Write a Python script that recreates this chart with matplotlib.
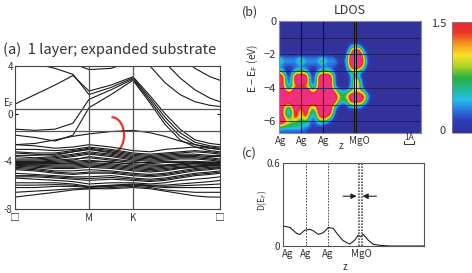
import numpy as np
import matplotlib
matplotlib.use('Agg')
import matplotlib.pyplot as plt
from matplotlib.colors import LinearSegmentedColormap
from matplotlib.patches import Arc

plt.rcParams['font.family'] = ['Noto Sans CJK JP', 'DejaVu Sans']
plt.rcParams['mathtext.fontset'] = 'dejavusans'

# ---- (a) band structure ----
k_path = [0, 20, 40, 58, 74, 96, 118, 135, 150, 165, 180, 195, 205]
k_ticks = [0, 74, 118, 205]
k_labels = ['□', 'M', 'K', '□']

upper_bands = [
    [6.0, 5.5, 4.8, 4.2, 3.7, 3.8, 4.4, 5.0, 6.0, 6.0, 6.0, 6.0, 6.0],
    [0.8, 1.6, 2.4, 3.2, 1.9, 2.4, 3.1, 1.5, 0.0, -1.3, -2.2, -2.5, -2.6],
    [4.6, 4.2, 3.8, 3.3, 1.6, 2.2, 3.0, 1.3, -0.3, -1.6, -2.4, -2.7, -2.8],
    [-1.3, -1.4, -1.3, -0.8, 1.2, 2.0, 2.9, 1.1, -0.6, -1.9, -2.6, -2.9, -3.0],
    [-1.8, -2.0, -2.3, -1.8, 0.5, 1.6, 2.8, 0.9, -0.9, -2.2, -2.8, -3.1, -3.2],
    [6.0, 6.0, 6.0, 6.0, 6.0, 6.0, 6.0, 4.0, 2.6, 1.6, 1.0, 0.7, 0.6],
    [6.0, 6.0, 6.0, 6.0, 6.0, 6.0, 6.0, 6.0, 4.3, 3.0, 2.0, 1.3, 1.0],
    [6.0, 6.0, 6.0, 6.0, 6.0, 6.0, 6.0, 6.0, 6.0, 4.8, 3.8, 3.1, 2.8],
    [-2.6, -2.5, -2.2, -1.9, -1.7, -1.5, -1.4, -1.6, -1.9, -2.3, -2.6, -2.8, -2.9],
]

lower_bands = [
    [-2.6, -2.7, -2.9, -2.8, -2.6, -2.8, -3.1, -3.2, -3.0, -2.9, -2.8, -2.9, -3.0],
    [-3.0, -3.0, -3.1, -3.0, -2.8, -3.0, -3.3, -3.4, -3.3, -3.2, -3.1, -3.2, -3.3],
    [-3.2, -3.3, -3.3, -3.1, -2.9, -3.1, -3.4, -3.5, -3.4, -3.3, -3.2, -3.3, -3.4],
    [-3.3, -3.4, -3.5, -3.2, -3.0, -3.2, -3.5, -3.6, -3.5, -3.4, -3.4, -3.5, -3.5],
    [-3.5, -3.5, -3.4, -3.2, -3.0, -3.3, -3.6, -3.7, -3.6, -3.5, -3.5, -3.6, -3.6],
    [-3.6, -3.7, -3.6, -3.4, -3.2, -3.4, -3.7, -3.8, -3.7, -3.6, -3.6, -3.7, -3.8],
    [-3.8, -3.8, -3.7, -3.5, -3.3, -3.5, -3.8, -3.9, -3.8, -3.7, -3.7, -3.8, -3.9],
    [-3.9, -3.9, -3.8, -3.6, -3.4, -3.6, -3.9, -4.0, -3.9, -3.8, -3.8, -3.9, -4.0],
    [-4.0, -4.0, -3.9, -3.8, -3.7, -3.9, -4.1, -4.1, -4.0, -4.0, -4.0, -4.1, -4.1],
    [-4.05, -4.05, -4.0, -3.9, -3.6, -3.8, -4.0, -4.2, -4.1, -4.1, -4.05, -4.05, -4.05],
    [-4.1, -4.1, -4.1, -4.0, -3.9, -4.1, -4.2, -4.3, -4.3, -4.2, -4.1, -4.1, -4.1],
    [-4.15, -4.15, -4.2, -4.1, -4.0, -4.0, -4.3, -4.4, -4.35, -4.25, -4.15, -4.15, -4.15],
    [-4.2, -4.2, -4.2, -4.2, -4.1, -4.2, -4.4, -4.5, -4.4, -4.3, -4.2, -4.2, -4.2],
    [-4.25, -4.3, -4.3, -4.3, -4.2, -4.3, -4.5, -4.6, -4.5, -4.4, -4.3, -4.25, -4.25],
    [-4.3, -4.3, -4.4, -4.4, -4.3, -4.4, -4.6, -4.7, -4.6, -4.5, -4.4, -4.3, -4.3],
    [-4.35, -4.4, -4.5, -4.5, -4.4, -4.5, -4.7, -4.8, -4.7, -4.55, -4.45, -4.35, -4.35],
    [-4.4, -4.5, -4.6, -4.6, -4.5, -4.6, -4.8, -4.9, -4.8, -4.6, -4.5, -4.4, -4.4],
    [-4.5, -4.6, -4.8, -4.8, -4.7, -4.8, -5.0, -5.1, -5.0, -4.8, -4.6, -4.5, -4.5],
    [-4.6, -4.7, -4.9, -5.0, -4.9, -4.9, -5.1, -5.2, -5.1, -4.9, -4.7, -4.6, -4.55],
    [-4.7, -4.8, -5.0, -5.1, -5.0, -5.0, -5.2, -5.3, -5.2, -5.0, -4.8, -4.7, -4.6],
    [-5.0, -5.1, -5.2, -5.3, -5.3, -5.2, -5.4, -5.5, -5.4, -5.2, -5.0, -4.9, -4.8],
    [-5.2, -5.2, -5.3, -5.4, -5.45, -5.35, -5.5, -5.6, -5.5, -5.3, -5.1, -5.0, -4.9],
    [-5.3, -5.3, -5.4, -5.5, -5.6, -5.5, -5.6, -5.7, -5.6, -5.4, -5.2, -5.1, -5.0],
    [-5.4, -5.5, -5.6, -5.7, -5.9, -5.8, -5.8, -5.9, -5.8, -5.6, -5.5, -5.4, -5.3],
    [-5.8, -5.8, -5.8, -5.9, -6.1, -6.0, -5.9, -6.0, -6.0, -5.9, -5.8, -5.7, -5.6],
    [-6.0, -6.0, -5.95, -6.0, -6.15, -6.05, -5.95, -6.05, -6.1, -6.05, -6.0, -5.95, -5.9],
    [-6.2, -6.2, -6.1, -6.1, -6.2, -6.1, -6.0, -6.1, -6.2, -6.2, -6.2, -6.2, -6.2],
    [-6.6, -6.5, -6.4, -6.3, -6.3, -6.2, -6.1, -6.2, -6.4, -6.5, -6.6, -6.6, -6.6],
    [-7.0, -6.8, -6.6, -6.4, -6.3, -6.3, -6.2, -6.3, -6.5, -6.7, -6.9, -7.0, -7.0],
]
ef_level = 0.4
flat_level = -1.45

# ---- (b) LDOS map: rows E = 0 .. -6.6 (step 0.3 eV), columns z = 0 .. 10.8 A (step 0.3 A) ----
ldos_rows = [
    "0000000000000000000000000000000000000",
    "0000000000000000000000000000000000000",
    "0000000000000000000000000000000000000",
    "0000000000000000000000000000000000000",
    "0000000000000000000000000000000000000",
    "0000000000000000000000000012221000000",
    "0000000000000000000000000137997310000",
    "1111111111111111111110000269999620000",
    "4322222343222223432222111379999731000",
    "1111111111111111111111000268998620000",
    "3310012333210012333210000124542100000",
    "9851148999841148999841000012321000000",
    "9852148999841148999841000013663100000",
    "9852245666542248999841000013553100000",
    "9986579999985579999975322234554310000",
    "9999999999999999999998544589999852100",
    "9999999999999999999997433368888631000",
    "9964479878975579999852100122322100000",
    "9842148656853359999841000000000000000",
    "9853358656742247887520000000000000000",
    "9986544333321123332100000000000000000",
    "4433333332221111100000000000000000000",
    "1111111111100000000000000000000000000",
]
ldos_z_step = 0.3
ldos_e_step = 0.3
ldos_level = 0.21
ag_z = [2.5, 4.95]
mgo_z = [8.4, 8.62]
z_label_pos = [0.15, 2.5, 4.95, 8.9]
z_labels = ['Ag', 'Ag', 'Ag', 'MgO']
scalebar_z = [13.9, 15.0]

# ---- (c) D(E_F) along z ----
dos_z = [0.04, 0.78, 1.52, 1.89, 2.44, 3.0, 3.37, 3.93, 4.48, 5.04, 5.59, 6.15,
         6.7, 7.44, 8.0, 8.37, 8.63, 8.93, 9.48, 10.04, 10.78, 11.89, 15.7]
dos_val = [0.144, 0.134, 0.091, 0.084, 0.115, 0.12, 0.11, 0.084, 0.096, 0.134, 0.127, 0.079,
           0.038, 0.014, 0.043, 0.079, 0.067, 0.084, 0.043, 0.012, 0.005, 0.0, 0.0]
c_ag_z = [2.55, 5.0]
c_mgo_z = [8.45, 8.75]
c_label_pos = [0.55, 2.55, 5.0, 8.7]

txt = '#333333'
fig = plt.figure(figsize=(4.72, 2.73), dpi=100)

# (a)
ax = fig.add_axes([15/472, 1 - 209/273, 205/472, 143/273])
for b in upper_bands + lower_bands:
    ax.plot(k_path, b, color='#1a1a1a', lw=0.8)
for k in k_ticks[1:3]:
    ax.axvline(k, color='#555555', lw=0.9)
ax.axhline(ef_level, color='#555555', lw=0.9)
ax.axhline(flat_level, color='#555555', lw=0.9)
ax.add_patch(Arc((97, -1.8), 24, 3.0, theta1=-105, theta2=110, color='#ee3322', lw=1.6))
ax.set_xlim(0, 205)
ax.set_ylim(-8, 4)
ax.set_xticks(k_ticks)
ax.set_xticklabels(k_labels, fontsize=7, color=txt)
ax.set_yticks([4, 0, -4, -8])
ax.set_yticklabels(['4', '0', '-4', '-8'], fontsize=7, color=txt)
ax.tick_params(axis='x', length=0, pad=3)
ax.tick_params(axis='y', direction='in', length=2.5, pad=1.5, right=True)
ax.text(-0.005, 0.85, 'E$_\\mathrm{F}$', transform=ax.get_yaxis_transform(), fontsize=7,
        color=txt, ha='right', va='center')
for s in ax.spines.values():
    s.set_color('#444444')
    s.set_linewidth(0.8)
fig.text(3/472, 1 - 50/273, '(a)  1 layer; expanded substrate', fontsize=10.5, color=txt,
         va='center')

# (b)
cmap = LinearSegmentedColormap.from_list('ldos', [
    (0.0, '#33329a'), (0.12, '#2d40c0'), (0.22, '#2a80e0'), (0.30, '#22c0ec'),
    (0.40, '#20b890'), (0.50, '#28b040'), (0.60, '#a8d428'), (0.70, '#f8e428'),
    (0.80, '#f59a20'), (0.90, '#ec3a28'), (1.0, '#e82838')])
cmap.set_over('#f0307e')
cmap.set_under('#33329a')
nz = max(len(r) for r in ldos_rows)
ldos = np.array([[int(c) for c in r.ljust(nz, '0')] for r in ldos_rows]) * ldos_level
ne = ldos.shape[0]
bx = fig.add_axes([279/472, 1 - 133/273, 142/472, 112/273])
bx.set_facecolor(cmap(0.0))
im = bx.imshow(ldos, cmap=cmap, vmin=0, vmax=1.5, aspect='auto', interpolation='bicubic',
               interpolation_stage='data',
               extent=[-ldos_z_step/2, (nz - 0.5)*ldos_z_step,
                       -(ne - 0.5)*ldos_e_step, ldos_e_step/2])
for e in range(-6, 0):
    bx.axhline(e, color='#1c1c5a', lw=0.6)
for z in ag_z:
    bx.axvline(z, color='#111111', lw=0.8)
for z in mgo_z:
    bx.axvline(z, color='#111111', lw=0.7)
bx.set_xlim(0, 15.8)
bx.set_ylim(-6.7, 0)
bx.set_yticks([0, -2, -4, -6])
bx.set_yticklabels(['0', '−2', '−4', '−6'], fontsize=8, color=txt)
bx.set_xticks(z_label_pos)
bx.set_xticklabels(z_labels, fontsize=7, color=txt)
bx.tick_params(length=0, pad=2)
for s in bx.spines.values():
    s.set_color('#8888aa')
    s.set_linewidth(0.8)
bx.plot([scalebar_z[0], scalebar_z[0], scalebar_z[1], scalebar_z[1]],
        [-7.2, -7.36, -7.36, -7.2], color=txt, lw=0.7, clip_on=False)
fig.text(409/472, 1 - 138/273, '1Å', fontsize=6, color=txt, ha='center', va='center')
fig.text(341/472, 1 - 146/273, 'z', fontsize=7, color=txt, ha='center', va='center')
fig.text(253/472, 1 - 68/273, 'E − E$_\\mathrm{F}$ (eV)', fontsize=7.5, color=txt, rotation=90,
         ha='center', va='center')
fig.text(350/472, 1 - 10/273, 'LDOS', fontsize=9, color=txt, ha='center', va='center')
fig.text(242/472, 1 - 12/273, '(b)', fontsize=9, color=txt, va='center')

cax = fig.add_axes([452/472, 1 - 133/273, 20/472, 111/273])
cb = fig.colorbar(im, cax=cax, extend='neither')
cb.set_ticks([])
cb.outline.set_linewidth(0.5)
cb.outline.set_edgecolor('#888888')
fig.text(446/472, 1 - 24/273, '1.5', fontsize=8, color=txt, ha='right', va='center')
fig.text(446/472, 1 - 131/273, '0', fontsize=8, color=txt, ha='right', va='center')

# (c)
cx = fig.add_axes([283/472, 1 - 246/273, 141/472, 83/273])
cx.plot(dos_z, dos_val, color='#222222', lw=0.8)
for z in c_ag_z:
    cx.axvline(z, color='#333333', lw=0.6, ls=(0, (2, 1.5)))
for z in c_mgo_z:
    cx.axvline(z, color='#555555', lw=1.2, ls=(0, (1, 0.8)))
arrow = dict(arrowstyle='-|>', color='#222222', lw=0.8, mutation_scale=8, shrinkA=0, shrinkB=0)
cx.annotate('', xy=(c_mgo_z[0] - 0.25, 0.36), xytext=(c_mgo_z[0] - 1.75, 0.36), arrowprops=arrow)
cx.annotate('', xy=(c_mgo_z[1] + 0.1, 0.36), xytext=(c_mgo_z[1] + 1.65, 0.36), arrowprops=arrow)
cx.set_xlim(0, 15.7)
cx.set_ylim(0, 0.6)
cx.set_yticks([0, 0.6])
cx.set_yticklabels(['0', '0.6'], fontsize=7, color=txt)
cx.set_xticks(c_label_pos)
cx.set_xticklabels(z_labels, fontsize=7, color=txt)
cx.tick_params(length=0, pad=2)
for s in cx.spines.values():
    s.set_color('#555555')
    s.set_linewidth(0.8)
fig.text(345/472, 1 - 267/273, 'z', fontsize=7, color=txt, ha='center', va='center')
fig.text(262/472, 1 - 200/273, 'D(E$_\\mathrm{F}$)', fontsize=6, color=txt, rotation=90,
         ha='center', va='center')
fig.text(242/472, 1 - 153/273, '(c)', fontsize=9, color=txt, va='center')

fig.savefig('out.png', dpi=100)
